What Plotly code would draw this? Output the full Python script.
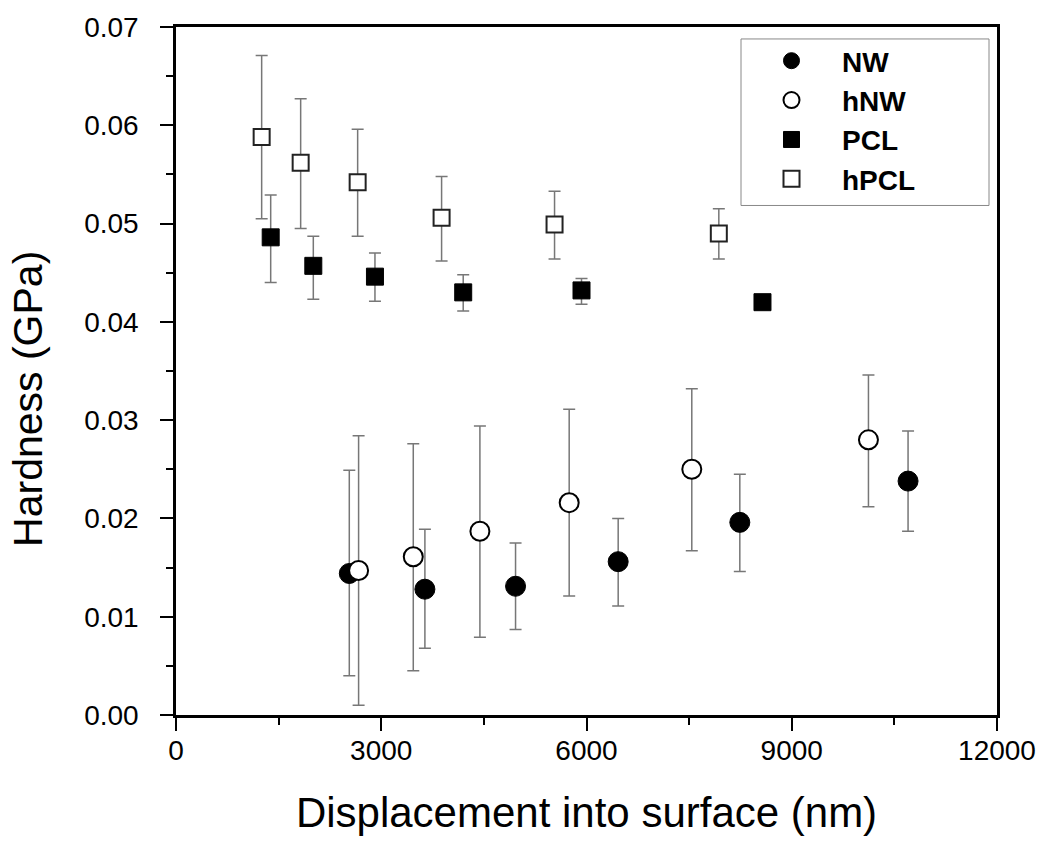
import plotly.graph_objects as go

# NW (filled circles)
nw_x = [2533, 3638, 4963, 6463, 8241, 10700]
nw_y = [0.0144, 0.0128, 0.0131, 0.0156, 0.0196, 0.0238]
nw_hi = [0.0249, 0.0189, 0.0175, 0.0200, 0.0245, 0.0289]
nw_lo = [0.0040, 0.0068, 0.0087, 0.0111, 0.0146, 0.0187]

# hNW (open circles)
hnw_x = [2669, 3468, 4442, 5747, 7539, 10121]
hnw_y = [0.0147, 0.0161, 0.0187, 0.0216, 0.0250, 0.0280]
hnw_hi = [0.0284, 0.0276, 0.0294, 0.0311, 0.0332, 0.0346]
hnw_lo = [0.0010, 0.0045, 0.0079, 0.0121, 0.0167, 0.0212]

# PCL (filled squares)
pcl_x = [1384, 2007, 2908, 4198, 5927, 8572]
pcl_y = [0.0486, 0.0457, 0.0446, 0.0430, 0.0432, 0.0420]
pcl_hi = [0.0529, 0.0487, 0.0470, 0.0448, 0.0444, 0.0422]
pcl_lo = [0.0440, 0.0423, 0.0421, 0.0411, 0.0418, 0.0418]

# hPCL (open squares)
hpcl_x = [1252, 1822, 2655, 3882, 5533, 7934]
hpcl_y = [0.0588, 0.0562, 0.0542, 0.0506, 0.0499, 0.0490]
hpcl_hi = [0.0671, 0.0627, 0.0596, 0.0548, 0.0533, 0.0515]
hpcl_lo = [0.0505, 0.0495, 0.0487, 0.0462, 0.0464, 0.0464]

x_ticks = [0, 3000, 6000, 9000, 12000]
y_ticks = [0.00, 0.01, 0.02, 0.03, 0.04, 0.05, 0.06, 0.07]

FONT = "Arial, 'Liberation Sans', sans-serif"
ERR_COLOR = "#777777"


def err(y, hi, lo):
    return dict(
        type="data",
        symmetric=False,
        array=[h - v for h, v in zip(hi, y)],
        arrayminus=[v - l for v, l in zip(y, lo)],
        color=ERR_COLOR,
        thickness=1.5,
        width=6,
    )


series = [
    ("NW", nw_x, nw_y, nw_hi, nw_lo, dict(symbol="circle", size=20, color="black", line=dict(color="black", width=1))),
    ("hNW", hnw_x, hnw_y, hnw_hi, hnw_lo, dict(symbol="circle", size=19, color="white", line=dict(color="black", width=2))),
    ("PCL", pcl_x, pcl_y, pcl_hi, pcl_lo, dict(symbol="square", size=17, color="black", line=dict(color="black", width=1))),
    ("hPCL", hpcl_x, hpcl_y, hpcl_hi, hpcl_lo, dict(symbol="square", size=16, color="white", line=dict(color="#222222", width=2))),
]

fig = go.Figure()
for name, xs, ys, hi, lo, mk in series:
    fig.add_trace(go.Scatter(
        x=xs, y=ys, mode="markers", name=name,
        marker=mk, error_y=err(ys, hi, lo),
        legendgroup=name,
    ))

axis_common = dict(
    showline=True, linecolor="black", linewidth=2.5, mirror=True,
    ticks="outside", ticklen=13, tickwidth=2, tickcolor="black",
    showgrid=False, zeroline=False,
    tickfont=dict(family=FONT, size=28, color="black"),
)

fig.update_xaxes(
    range=[0, 12000], tickvals=x_ticks, ticktext=[str(v) for v in x_ticks],
    minor=dict(dtick=1500, ticks="outside", ticklen=7, tickwidth=2, tickcolor="black", showgrid=False),
    title=dict(text="Displacement into surface (nm)", font=dict(family=FONT, size=42, color="black"), standoff=33),
    ticklabelstandoff=-4,
    **axis_common,
)
fig.update_yaxes(
    range=[0, 0.07], tickvals=y_ticks, ticktext=[f"{v:.2f}" for v in y_ticks],
    minor=dict(dtick=0.005, ticks="outside", ticklen=7, tickwidth=2, tickcolor="black", showgrid=False),
    ticklabelstandoff=16,
    **axis_common,
)

# y-axis title placed as rotated text
fig.add_annotation(
    text="Hardness (GPa)", textangle=-90,
    xref="paper", yref="paper",
    x=(28 - 176) / 821, y=(715 - 398) / 690,
    xanchor="center", yanchor="middle", showarrow=False,
    font=dict(family=FONT, size=41, color="black"),
)

# legend frame
fig.add_shape(
    type="rect", xref="paper", yref="paper",
    x0=(741 - 176) / 821, x1=(989 - 176) / 821,
    y0=(715 - 204) / 690, y1=(715 - 37) / 690,
    line=dict(color="#888888", width=1), fillcolor="white", layer="below",
)

fig.update_layout(
    width=1052, height=848,
    margin=dict(l=176, r=55, t=25, b=133),
    paper_bgcolor="white", plot_bgcolor="white",
    showlegend=True,
    legend=dict(
        x=(741 - 176) / 821, y=(715 - 34) / 690, xanchor="left", yanchor="top",
        borderwidth=0, bgcolor="rgba(0,0,0,0)",
        font=dict(family=FONT, size=28, color="black", weight="bold"),
        tracegroupgap=0, itemsizing="trace", itemwidth=91,
    ),
)

fig.write_html("out.html")
